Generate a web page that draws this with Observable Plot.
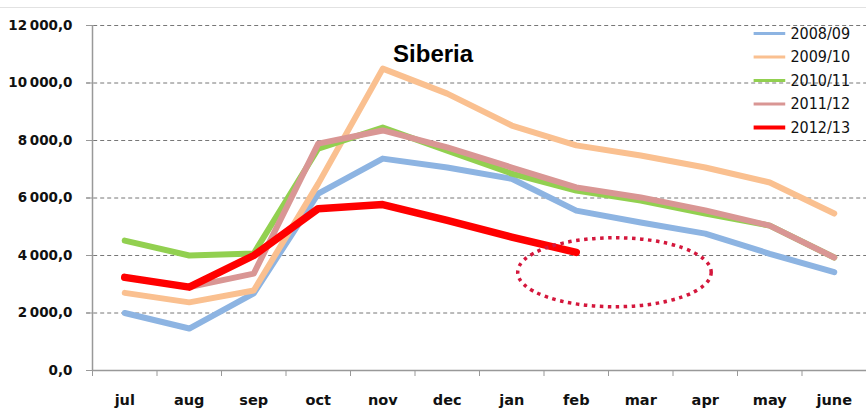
<!DOCTYPE html>
<html><head><meta charset="utf-8">
<script src="https://cdn.jsdelivr.net/npm/d3@7"></script>
<script src="https://cdn.jsdelivr.net/npm/@observablehq/plot@0.6"></script>
<style>
html,body{margin:0;padding:0;background:#fff;}
</style>
</head><body>
<div id="chart"></div>
<script>
const months = ["jul","aug","sep","oct","nov","dec","jan","feb","mar","apr","may","june"];
const seasons = ["2008/09","2009/10","2010/11","2011/12","2012/13"];
const colors = ["#8db4e2","#fac090","#92d050","#d99694","#ff0000"];
const s0809 = [2000,1460,2680,6150,7370,7060,6670,5560,5150,4760,4060,3420];
const s0910 = [2700,2370,2780,6500,10500,9630,8520,7830,7480,7060,6540,5460];
const s1011 = [4520,4000,4070,7720,8450,7650,6850,6260,5910,5460,5040,3930];
const s1112 = [3240,2900,3370,7890,8350,7760,7060,6370,6020,5570,5040,3930];
const s1213 = [3240,2900,4000,5630,5770,5220,4640,4110];
const yTicks = [0,2000,4000,6000,8000,10000,12000];
const title = "Siberia";

const allSeries = [s0809, s0910, s1011, s1112, s1213];
const rows = [];
allSeries.forEach((vals, si) => vals.forEach((v, i) => rows.push({season: seasons[si], mi: i, value: v})));

const fmt = d3.formatLocale({decimal: ",", thousands: "\u202f", grouping: [3]}).format(",.1f");
const halfTicks = d3.range(0, 13).map(i => i - 0.5);
const monthIdx = d3.range(months.length);

const legendRows = seasons.map((s, i) => ({season: s, row: i}));
const rowY = r => 11720 - r * 818;

const chart = Plot.plot({
  width: 866, height: 418,
  marginLeft: 92, marginRight: 0, marginTop: 25, marginBottom: 48,
  style: {background: "#fff", overflow: "visible"},
  x: {type: "linear", domain: [-0.5, 11.5], axis: null},
  y: {domain: [0, 12000], axis: null},
  color: {domain: seasons, range: colors},
  marks: [
    Plot.gridY(yTicks.filter(d => d > 0), {stroke: "#777", strokeOpacity: 1, strokeDasharray: "4,3", strokeWidth: 1, x1: -0.59}),
    Plot.axisY(yTicks, {label: null, tickSize: 6, tickPadding: 14, tickFormat: fmt, stroke: "#999", fontSize: 13.5, fontWeight: "bold", fontFamily: "DejaVu Sans", fill: "#111"}),
    Plot.ruleX([-0.5], {stroke: "#999", strokeWidth: 1.5}),
    Plot.ruleY([0], {stroke: "#999", strokeWidth: 1.5}),
    Plot.axisX(halfTicks, {label: null, tickSize: 6, tickFormat: () => "", stroke: "#999"}),
    Plot.axisX(monthIdx, {label: null, tickSize: 0, tickPadding: 24, tickFormat: i => months[i], fontSize: 14.5, fontWeight: "bold", fontFamily: "DejaVu Sans", fill: "#111"}),
    Plot.line(rows, {x: "mi", y: "value", z: "season", stroke: "season",
      strokeWidth: d => d.season === "2012/13" ? 7.5 : 6, strokeLinecap: "round", strokeLinejoin: "round"}),
    Plot.text([title], {x: 4.78, y: 10990, text: d => d, fontSize: 24, fontWeight: "bold", fontFamily: "Liberation Sans", fill: "#000"}),
    Plot.link(legendRows, {x1: 9.75, x2: 10.24, y1: d => rowY(d.row), y2: d => rowY(d.row), stroke: "season",
      strokeWidth: d => d.season === "2012/13" ? 4 : 3}),
    Plot.text(legendRows, {x: 10.32, y: d => rowY(d.row), text: "season", textAnchor: "start", fontSize: 16, fontFamily: "DejaVu Sans Condensed", fill: "#111"})
  ]
});

// Dotted annotation ellipse, positioned through the plot's scales
const sx = chart.scale("x"), sy = chart.scale("y");
const svg = d3.select(chart.tagName.toLowerCase() === "svg" ? chart : chart.querySelector("svg"));
const cx = sx.apply(7.6), cy = sy.apply(3400);
const rx = sx.apply(7.6 + 1.5) - cx, ry = sy.apply(3400) - sy.apply(4600);
svg.append("ellipse").attr("cx", cx).attr("cy", cy).attr("rx", rx).attr("ry", ry)
  .attr("fill", "none").attr("stroke", "#d4173c").attr("stroke-width", 3.5)
  .attr("stroke-dasharray", "3.5,4.5");
svg.insert("line", ":first-child").attr("x1", 0).attr("x2", 866).attr("y1", 7.5).attr("y2", 7.5)
  .attr("stroke", "#e2e2e2").attr("stroke-width", 1);

document.getElementById("chart").appendChild(chart);
</script>
</body></html>
